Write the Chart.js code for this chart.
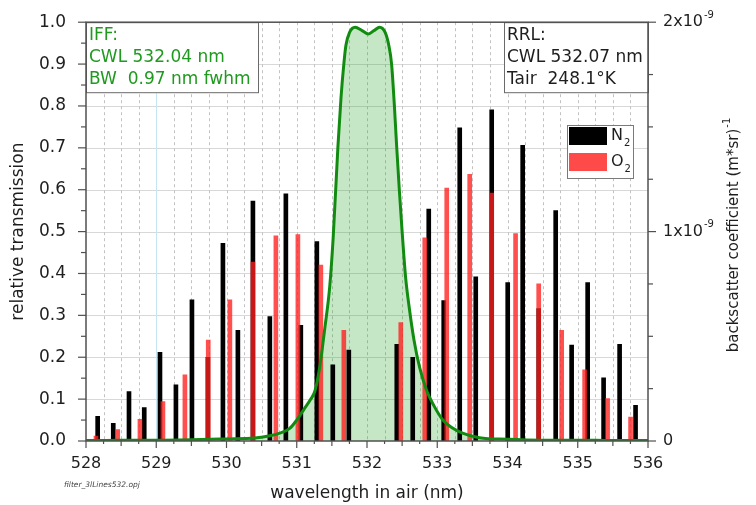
<!DOCTYPE html>
<html>
<head>
<meta charset="utf-8">
<script src="https://cdn.jsdelivr.net/npm/chart.js@4.4.1/dist/chart.umd.min.js"></script>
<style>
  html, body { margin: 0; padding: 0; background: #ffffff; }
  canvas { display: block; }
</style>
</head>
<body>
<canvas id="chart" width="756" height="505"></canvas>
<script>
// Rotational Raman lines of N2 (wavelength in nm, backscatter coefficient in (m*sr)^-1)
const n2Wavelengths = [528.166, 528.388, 528.612, 528.829, 529.053, 529.280, 529.508, 529.735, 529.949, 530.162,
                       530.376, 530.617, 530.845, 531.058, 531.286, 531.513, 531.741, 532.424, 532.651, 532.879,
                       533.092, 533.320, 533.548, 533.775, 534.003, 534.216, 534.444, 534.686, 534.913, 535.141,
                       535.368, 535.596, 535.823];
const n2Backscatter = [1.18e-10, 0.84e-10, 2.36e-10, 1.60e-10, 4.24e-10, 2.68e-10, 6.74e-10, 4.00e-10, 9.44e-10, 5.28e-10,
                       11.46e-10, 5.94e-10, 11.80e-10, 5.52e-10, 9.52e-10, 3.64e-10, 4.34e-10, 4.62e-10, 4.00e-10, 11.08e-10,
                       6.70e-10, 14.96e-10, 7.84e-10, 15.82e-10, 7.56e-10, 14.12e-10, 6.32e-10, 11.00e-10, 4.58e-10, 7.56e-10,
                       3.02e-10, 4.62e-10, 1.70e-10];

// Rotational Raman lines of O2
const o2Wavelengths = [528.142, 528.451, 528.768, 529.095, 529.408, 529.740, 530.048, 530.376, 530.703, 531.016,
                       531.343, 531.670, 532.481, 532.822, 533.135, 533.462, 533.775, 534.115, 534.444, 534.771,
                       535.098, 535.425, 535.752];
const o2Backscatter = [0.24e-10, 0.54e-10, 1.04e-10, 1.88e-10, 3.16e-10, 4.82e-10, 6.74e-10, 8.54e-10, 9.80e-10, 9.86e-10,
                       8.40e-10, 5.28e-10, 5.66e-10, 9.70e-10, 12.08e-10, 12.74e-10, 11.84e-10, 9.90e-10, 7.50e-10, 5.28e-10,
                       3.40e-10, 2.02e-10, 1.14e-10];

// Interference filter (IFF) transmission curve
const filterWavelengths = [528.0, 528.5, 529.0, 529.5, 530.0, 530.4, 530.6, 530.76, 530.9, 531.0,
                           531.1, 531.2, 531.26, 531.33, 531.40, 531.47, 531.52, 531.585, 531.63, 531.67,
                           531.70, 531.75, 531.83, 531.93, 532.02, 532.10, 532.18, 532.26, 532.31, 532.35,
                           532.39, 532.42, 532.46, 532.50, 532.55, 532.60, 532.67, 532.75, 532.85, 532.95,
                           533.08, 533.20, 533.36, 533.60, 534.0, 534.5, 535.0, 535.5, 536.0];
const filterTransmission = [0.001, 0.002, 0.002, 0.003, 0.005, 0.007, 0.012, 0.019, 0.030, 0.050,
                            0.075, 0.100, 0.120, 0.180, 0.270, 0.370, 0.490, 0.700, 0.820, 0.900,
                            0.945, 0.975, 0.988, 0.980, 0.972, 0.980, 0.988, 0.975, 0.945, 0.900,
                            0.800, 0.710, 0.600, 0.500, 0.390, 0.320, 0.240, 0.175, 0.120, 0.085,
                            0.050, 0.033, 0.019, 0.008, 0.004, 0.002, 0.002, 0.001, 0.001];

// Axis ranges and tick labels
const wavelengthRange = [528, 536];
const wavelengthLabels = ['528', '529', '530', '531', '532', '533', '534', '535', '536'];
const transmissionLabels = ['0.0', '0.1', '0.2', '0.3', '0.4', '0.5', '0.6', '0.7', '0.8', '0.9', '1.0'];
const backscatterTicks = [0, 1e-9, 2e-9];
const backscatterTickLabels = ['0', '1x10', '2x10'];
const backscatterExponent = '-9';

// Annotation texts
const iffLines = ['IFF:', 'CWL 532.04 nm', 'BW  0.97 nm fwhm'];
const rrlLines = ['RRL:', 'CWL 532.07 nm', 'Tair  248.1\u00B0K'];
const fileName = 'filter_3lLines532.opj';

const FONT = '"DejaVu Sans", "Liberation Sans", sans-serif';
const TEXT = '#1e1e1e';
const AXIS = '#505050';
const GREEN_TEXT = '#1f9a1f';

const toPoints = (xs, ys) => xs.map((v, i) => ({ x: v, y: ys[i] }));
const filterPoints = toPoints(filterWavelengths, filterTransmission);

function line(ctx, x1, y1, x2, y2) {
  ctx.beginPath();
  ctx.moveTo(x1, y1);
  ctx.lineTo(x2, y2);
  ctx.stroke();
}

// Gridlines, frame, ticks, right axis, annotation boxes and legend
const decor = {
  id: 'decor',
  beforeDatasetsDraw(chart) {
    const { ctx, chartArea: a, scales: { x, y } } = chart;
    ctx.save();
    ctx.lineWidth = 1;
    ctx.strokeStyle = '#d8d8d8';
    y.ticks.forEach(t => {
      if (t.value <= 0.001 || t.value >= 0.999) return;
      const py = Math.round(y.getPixelForValue(t.value)) + 0.5;
      line(ctx, a.left, py, a.right, py);
    });
    x.ticks.forEach(t => {
      if (t.value <= wavelengthRange[0] || t.value >= wavelengthRange[1]) return;
      const px = Math.round(x.getPixelForValue(t.value)) + 0.5;
      if (t.value === 529) {
        ctx.setLineDash([]);
        ctx.strokeStyle = '#c6e6f2';
      } else {
        ctx.setLineDash([3, 3]);
        ctx.strokeStyle = '#c2c2c2';
      }
      line(ctx, px, a.top, px, a.bottom);
    });
    ctx.restore();
  },
  afterDatasetsDraw(chart) {
    const { ctx, chartArea: a, scales: { x, y, y2 } } = chart;
    ctx.save();

    // IFF box
    ctx.fillStyle = '#ffffff';
    ctx.fillRect(a.left, a.top, 172, 71);
    ctx.strokeStyle = '#6a6a6a';
    ctx.lineWidth = 1;
    ctx.strokeRect(a.left + 0.5, a.top + 0.5, 172, 70);
    ctx.font = `17px ${FONT}`;
    ctx.textBaseline = 'middle';
    ctx.textAlign = 'left';
    ctx.fillStyle = GREEN_TEXT;
    iffLines.forEach((s, i) => ctx.fillText(s, a.left + 3, a.top + 13 + i * 22));

    // RRL box
    ctx.fillStyle = '#ffffff';
    ctx.fillRect(a.right - 144, a.top, 144, 71);
    ctx.strokeRect(a.right - 144 + 0.5, a.top + 0.5, 144, 70);
    ctx.fillStyle = TEXT;
    rrlLines.forEach((s, i) => ctx.fillText(s, a.right - 141, a.top + 13 + i * 22));

    // Frame
    ctx.strokeStyle = AXIS;
    ctx.lineWidth = 1.5;
    ctx.strokeRect(a.left, a.top, a.right - a.left, a.bottom - a.top);

    // Left ticks (major at labels, minor between)
    ctx.lineWidth = 1.2;
    y.ticks.forEach((t, i) => {
      const py = y.getPixelForValue(t.value);
      line(ctx, a.left - 8, py, a.left, py);
      if (i < y.ticks.length - 1) {
        const pm = y.getPixelForValue((t.value + y.ticks[i + 1].value) / 2);
        line(ctx, a.left - 5, pm, a.left, pm);
      }
    });
    // Bottom ticks
    x.ticks.forEach(t => {
      const px = x.getPixelForValue(t.value);
      const len = Number.isInteger(t.value) ? 7 : (Number.isInteger(t.value * 2) ? 5 : 3);
      line(ctx, px, a.bottom, px, a.bottom + len);
    });
    // Right ticks
    y2.ticks.forEach(t => {
      const py = y2.getPixelForValue(t.value);
      const major = backscatterTicks.some(b => Math.abs(b - t.value) < 1e-12);
      line(ctx, a.right, py, a.right + (major ? 8 : 5), py);
    });

    // Right tick labels with exponent
    ctx.fillStyle = TEXT;
    ctx.textAlign = 'left';
    ctx.textBaseline = 'middle';
    backscatterTicks.forEach((v, i) => {
      const py = y2.getPixelForValue(v);
      ctx.font = `16px ${FONT}`;
      const label = backscatterTickLabels[i];
      ctx.fillText(label, a.right + 15, py);
      if (v !== 0) {
        const w = ctx.measureText(label).width;
        ctx.font = `10px ${FONT}`;
        ctx.fillText(backscatterExponent, a.right + 15 + w + 1, py - 7);
      }
    });

    // Right axis title (reads bottom to top)
    ctx.save();
    ctx.translate(734, 235);
    ctx.rotate(-Math.PI / 2);
    ctx.font = `15px ${FONT}`;
    const main = 'backscatter coefficient (m*sr)';
    const wMain = ctx.measureText(main).width;
    ctx.font = `10px ${FONT}`;
    const wSup = ctx.measureText('-1').width;
    const x0 = -(wMain + wSup + 1) / 2;
    ctx.textAlign = 'left';
    ctx.textBaseline = 'middle';
    ctx.font = `15px ${FONT}`;
    ctx.fillText(main, x0, 0);
    ctx.font = `10px ${FONT}`;
    ctx.fillText('-1', x0 + wMain + 1, -7);
    ctx.restore();

    // Legend
    ctx.fillStyle = '#ffffff';
    ctx.fillRect(567, 125, 66, 53);
    ctx.strokeStyle = '#7a7a7a';
    ctx.lineWidth = 1;
    ctx.strokeRect(567.5, 125.5, 66, 53);
    ctx.fillStyle = '#000000';
    ctx.fillRect(569, 127, 38, 18);
    ctx.fillStyle = '#ff4a4a';
    ctx.fillRect(569, 153, 38, 18);
    ctx.fillStyle = TEXT;
    [['N', 136], ['O', 162]].forEach(([s, py]) => {
      ctx.font = `16px ${FONT}`;
      ctx.fillText(s, 611, py);
      const w = ctx.measureText(s).width;
      ctx.font = `10px ${FONT}`;
      ctx.fillText('2', 611 + w + 1, py + 7);
    });

    // Project file name
    ctx.font = `italic 7.5px ${FONT}`;
    ctx.fillStyle = '#444444';
    ctx.fillText(fileName, 64, 485);

    ctx.restore();
  }
};

new Chart(document.getElementById('chart'), {
  type: 'bar',
  data: {
    datasets: [
      {
        type: 'line',
        label: 'IFF area',
        data: filterPoints,
        yAxisID: 'y',
        borderColor: 'transparent',
        borderWidth: 0,
        backgroundColor: 'rgba(40,165,40,0.27)',
        fill: 'origin',
        pointRadius: 0,
        cubicInterpolationMode: 'monotone',
        order: 3
      },
      {
        label: 'N2',
        data: toPoints(n2Wavelengths, n2Backscatter),
        yAxisID: 'y2',
        backgroundColor: '#000000',
        barThickness: 4,
        grouped: false,
        order: 2
      },
      {
        label: 'O2',
        data: toPoints(o2Wavelengths, o2Backscatter),
        yAxisID: 'y2',
        backgroundColor: 'rgba(255,30,30,0.78)',
        barThickness: 4,
        grouped: false,
        order: 1
      },
      {
        type: 'line',
        label: 'IFF',
        data: filterPoints,
        yAxisID: 'y',
        borderColor: '#118c11',
        borderWidth: 3,
        fill: false,
        pointRadius: 0,
        cubicInterpolationMode: 'monotone',
        order: 0
      }
    ]
  },
  options: {
    responsive: false,
    animation: false,
    events: [],
    layout: { padding: { top: 17, left: 0, right: 0, bottom: 0 } },
    plugins: { legend: { display: false }, tooltip: { enabled: false } },
    scales: {
      x: {
        type: 'linear',
        min: wavelengthRange[0],
        max: wavelengthRange[1],
        offset: false,
        grid: { display: false, offset: false },
        border: { display: false },
        ticks: {
          stepSize: 0.25,
          autoSkip: false,
          maxRotation: 0,
          padding: 5,
          color: TEXT,
          font: { family: FONT, size: 16 },
          callback: v => Number.isInteger(v) ? wavelengthLabels[v - wavelengthRange[0]] : ''
        },
        title: {
          display: true,
          text: 'wavelength in air (nm)',
          color: TEXT,
          font: { family: FONT, size: 17 },
          padding: { top: 0, bottom: 1 }
        },
        afterFit: s => { s.height = 64; }
      },
      y: {
        type: 'linear',
        position: 'left',
        min: 0,
        max: 1,
        grid: { display: false },
        border: { display: false },
        ticks: {
          stepSize: 0.1,
          autoSkip: false,
          padding: 12,
          color: TEXT,
          font: { family: FONT, size: 17 },
          callback: v => transmissionLabels[Math.round(v * 10)]
        },
        title: {
          display: true,
          text: 'relative transmission',
          color: TEXT,
          font: { family: FONT, size: 17 },
          padding: { top: 8, bottom: 0 }
        },
        afterFit: s => { s.width = 86; }
      },
      y2: {
        type: 'linear',
        position: 'right',
        min: 0,
        max: 2e-9,
        grid: { display: false },
        border: { display: false },
        ticks: { display: false, stepSize: 0.25e-9 },
        afterFit: s => { s.width = 108; }
      }
    }
  },
  plugins: [decor]
});
</script>
</body>
</html>
